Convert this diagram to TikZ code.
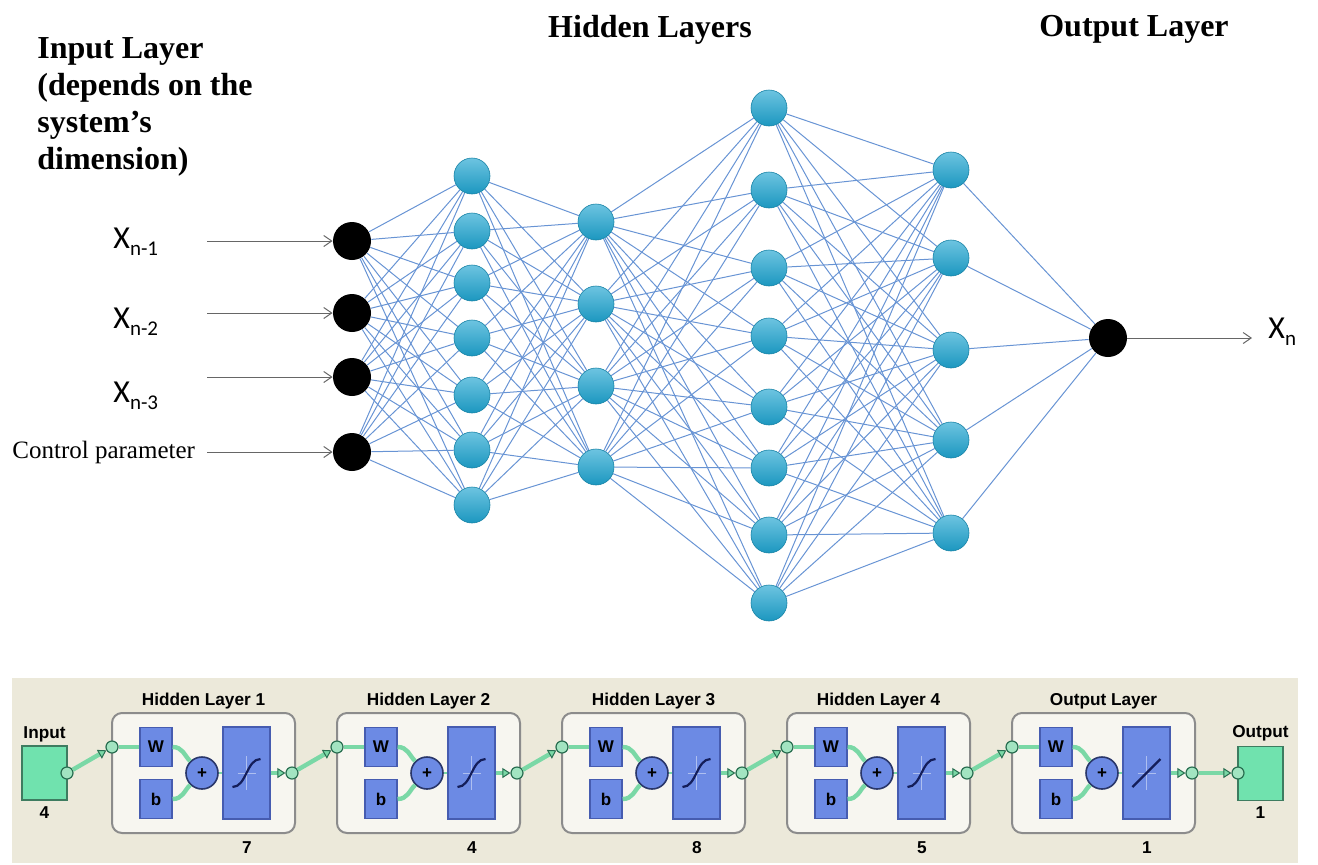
\documentclass[tikz,border=0pt]{standalone}
\usepackage{fontspec}
\setmainfont{Liberation Serif}
\setsansfont{Liberation Sans}
\newfontfamily\calibrifont{Carlito}
\usepackage{xcolor}
\usetikzlibrary{arrows.meta, backgrounds}

\definecolor{linkblue}{RGB}{104,148,212}
\definecolor{ballcyan}{RGB}{30,164,208}
\definecolor{panelbg}{RGB}{236,233,218}
\definecolor{blockbg}{RGB}{247,246,240}
\definecolor{wbblue}{RGB}{108,138,228}
\definecolor{wbedge}{RGB}{70,92,176}
\definecolor{flowgreen}{RGB}{122,216,166}
\definecolor{flowdark}{RGB}{40,110,80}
\definecolor{iogreen}{RGB}{112,226,174}
\definecolor{sigmanavy}{RGB}{20,30,90}

\newcommand{\xsub}[2]{{\calibrifont\fontsize{16}{18}\selectfont #1\raisebox{-3.5pt}{\fontsize{10.5}{11}\selectfont #2}}}

\begin{document}
\begin{tikzpicture}[x=0.5pt, y=-0.5pt,
    inpnode/.style={circle, fill=black, minimum size=19pt, inner sep=0pt},
    hidnode/.style={circle, draw=ballcyan!80!black, line width=0.3pt, top color=ballcyan!65!white, bottom color=ballcyan!92!black, minimum size=18pt, inner sep=0pt},
    link/.style={draw=linkblue, line width=0.5pt},
    Arr/.style={-{Straight Barb[length=4pt, width=5.5pt]}, draw=black!60, line width=0.5pt},
    heading/.style={font=\bfseries\fontsize{16}{18.5}\selectfont, inner sep=0pt},
    lbl/.style={anchor=base west, inner sep=0pt},
    block/.style={draw=black!45, line width=1pt, fill=blockbg, rounded corners=5pt, minimum width=91.5pt, minimum height=60pt, inner sep=0pt},
    wbbox/.style={draw=wbedge, fill=wbblue, line width=0.6pt, minimum width=16pt, minimum height=19.5pt, inner sep=0pt, font=\sffamily\bfseries\fontsize{8.5}{9}\selectfont},
    tfbox/.style={draw=wbedge, fill=wbblue, line width=0.6pt, minimum width=23.5pt, minimum height=46pt, inner sep=0pt},
    sumnode/.style={circle, draw=wbedge!60!black, fill=wbblue, line width=0.8pt, minimum size=16pt, inner sep=0pt, font=\sffamily\bfseries\fontsize{8.5}{9}\selectfont},
    port/.style={circle, draw=flowdark, fill=flowgreen!70!white, line width=0.6pt, minimum size=6pt, inner sep=0pt},
    flow/.style={draw=flowgreen, line width=2.2pt},
    Flow/.style={flow, -{Triangle[length=4pt, width=5pt, color=flowdark, fill=flowgreen, line width=0.5pt]}},
    iobox/.style={draw=iogreen!55!black, fill=iogreen, line width=0.8pt, minimum width=22.5pt, minimum height=27pt, inner sep=0pt},
    tag/.style={font=\sffamily\bfseries\fontsize{8.6}{10}\selectfont, anchor=base, inner sep=0pt},
  ]
  \useasboundingbox (0,0) rectangle (1318,864);

  % headings
  \node[heading, align=left, anchor=north west] (inhead) at (37,37) {Input Layer\\(depends on the\\system’s\\dimension)};
  \node[heading, anchor=base] (hidhead) at (650,37) {Hidden Layers};
  \node[heading, anchor=base] (outhead) at (1134,36) {Output Layer};

  % network
  \foreach \y [count=\j] in {241,313,377,452}
    \node[inpnode] (i\j) at (352,\y) {};
  \foreach \y [count=\j] in {176,231,283,338,395,450,505}
    \node[hidnode] (a\j) at (472,\y) {};
  \foreach \y [count=\j] in {222,304,386,467}
    \node[hidnode] (b\j) at (596,\y) {};
  \foreach \y [count=\j] in {108,190,268,336,407,468,535,603}
    \node[hidnode] (c\j) at (769,\y) {};
  \foreach \y [count=\j] in {170,258,350,440,533}
    \node[hidnode] (d\j) at (951,\y) {};
  \node[inpnode] (o1) at (1108,338) {};

  \begin{scope}[on background layer]
    \foreach \p in {1,...,4} \foreach \q in {1,...,7} \draw[link] (i\p) -- (a\q);
    \foreach \p in {1,...,7} \foreach \q in {1,...,4} \draw[link] (a\p) -- (b\q);
    \foreach \p in {1,...,4} \foreach \q in {1,...,8} \draw[link] (b\p) -- (c\q);
    \foreach \p in {1,...,8} \foreach \q in {1,...,5} \draw[link] (c\p) -- (d\q);
    \foreach \p in {1,...,5} \draw[link] (d\p) -- (o1);
  \end{scope}

  \node[lbl] (x1) at (113,248) {\xsub{X}{n-1}};
  \node[lbl] (x2) at (113,328) {\xsub{X}{n-2}};
  \node[lbl] (x3) at (113,402) {\xsub{X}{n-3}};
  \node[lbl, font=\fontsize{12.5}{14}\selectfont] (x4) at (12,458) {Control parameter};
  \foreach \j in {1,...,4}{
    \path (i\j) ++(-145,0) coordinate (s\j);
    \draw[Arr] (s\j) -- (i\j);
  }
  \coordinate (xend) at (1252,338);
  \draw[Arr] (o1) -- (xend);
  \node[lbl] (xn) at (1268,338) {\xsub{X}{n}};

  % toolbox view
  \fill[panelbg] (12,678) rectangle (1298,863);
  \node[iobox] (inbox) at (44.5,773) {};
  \node[tag] at (44.5,738) {Input};
  \node[tag] at (44.5,818) {4};
  \node[port] (inport) at (67,773) {};
  \node[iobox] (outbox) at (1260.5,773.5) {};
  \node[tag] at (1260.5,737) {Output};
  \node[tag] at (1260.5,818) {1};
  \node[port] (outport) at (1238,773) {};

  \foreach \bx/\ttl/\n/\ca/\cb [count=\k] in {112/Hidden Layer 1/7/14/0, 337/Hidden Layer 2/4/14/0, 562/Hidden Layer 3/8/14/0, 787/Hidden Layer 4/5/14/0, 1012/Output Layer/1/9/9}{
    \node[block] (blk\k) at (\bx+91.5,773) {};
    \node[tag] at (\bx+91.5,705) {\ttl};
    \node[tag] at (\bx+135,853) {\n};
    \node[wbbox] (wt\k) at (\bx+44,747) {W};
    \node[wbbox] (bs\k) at (\bx+44,799) {b};
    \node[sumnode] (sum\k) at (\bx+90,773) {+};
    \node[tfbox] (tf\k) at (\bx+134.5,773) {};
    \draw[wbblue!55!white, line width=0.4pt] ([shift={(0,-17)}]tf\k.center) -- ([shift={(0,17)}]tf\k.center)
      ([shift={(-9,0)}]tf\k.center) -- ([shift={(9,0)}]tf\k.center);
    \draw[sigmanavy, line width=1.1pt] ([shift={(-14,14)}]tf\k.center) .. controls +(\ca,-\cb) and +(-\ca,\cb) .. ([shift={(14,-14)}]tf\k.center);
    \node[port] (pin\k) at (\bx,747) {};
    \node[port] (pout\k) at (\bx+180,773) {};
    \draw[flow] (pin\k) -- (wt\k);
    \draw[flow] (wt\k.east) .. controls +(10,0) and +(-6,-6) .. (sum\k.135);
    \draw[flow] (bs\k.east) .. controls +(10,0) and +(-6,6) .. (sum\k.225);
    \draw[flow, line width=1pt] (sum\k) -- (tf\k);
    \draw[Flow] (tf\k) -- (pout\k);
  }
  \draw[Flow] (inport) -- (pin1);
  \foreach \p/\q in {1/2,2/3,3/4,4/5}
    \draw[Flow] (pout\p) -- (pin\q);
  \draw[Flow] (pout5) -- (outport);
\end{tikzpicture}
\end{document}
